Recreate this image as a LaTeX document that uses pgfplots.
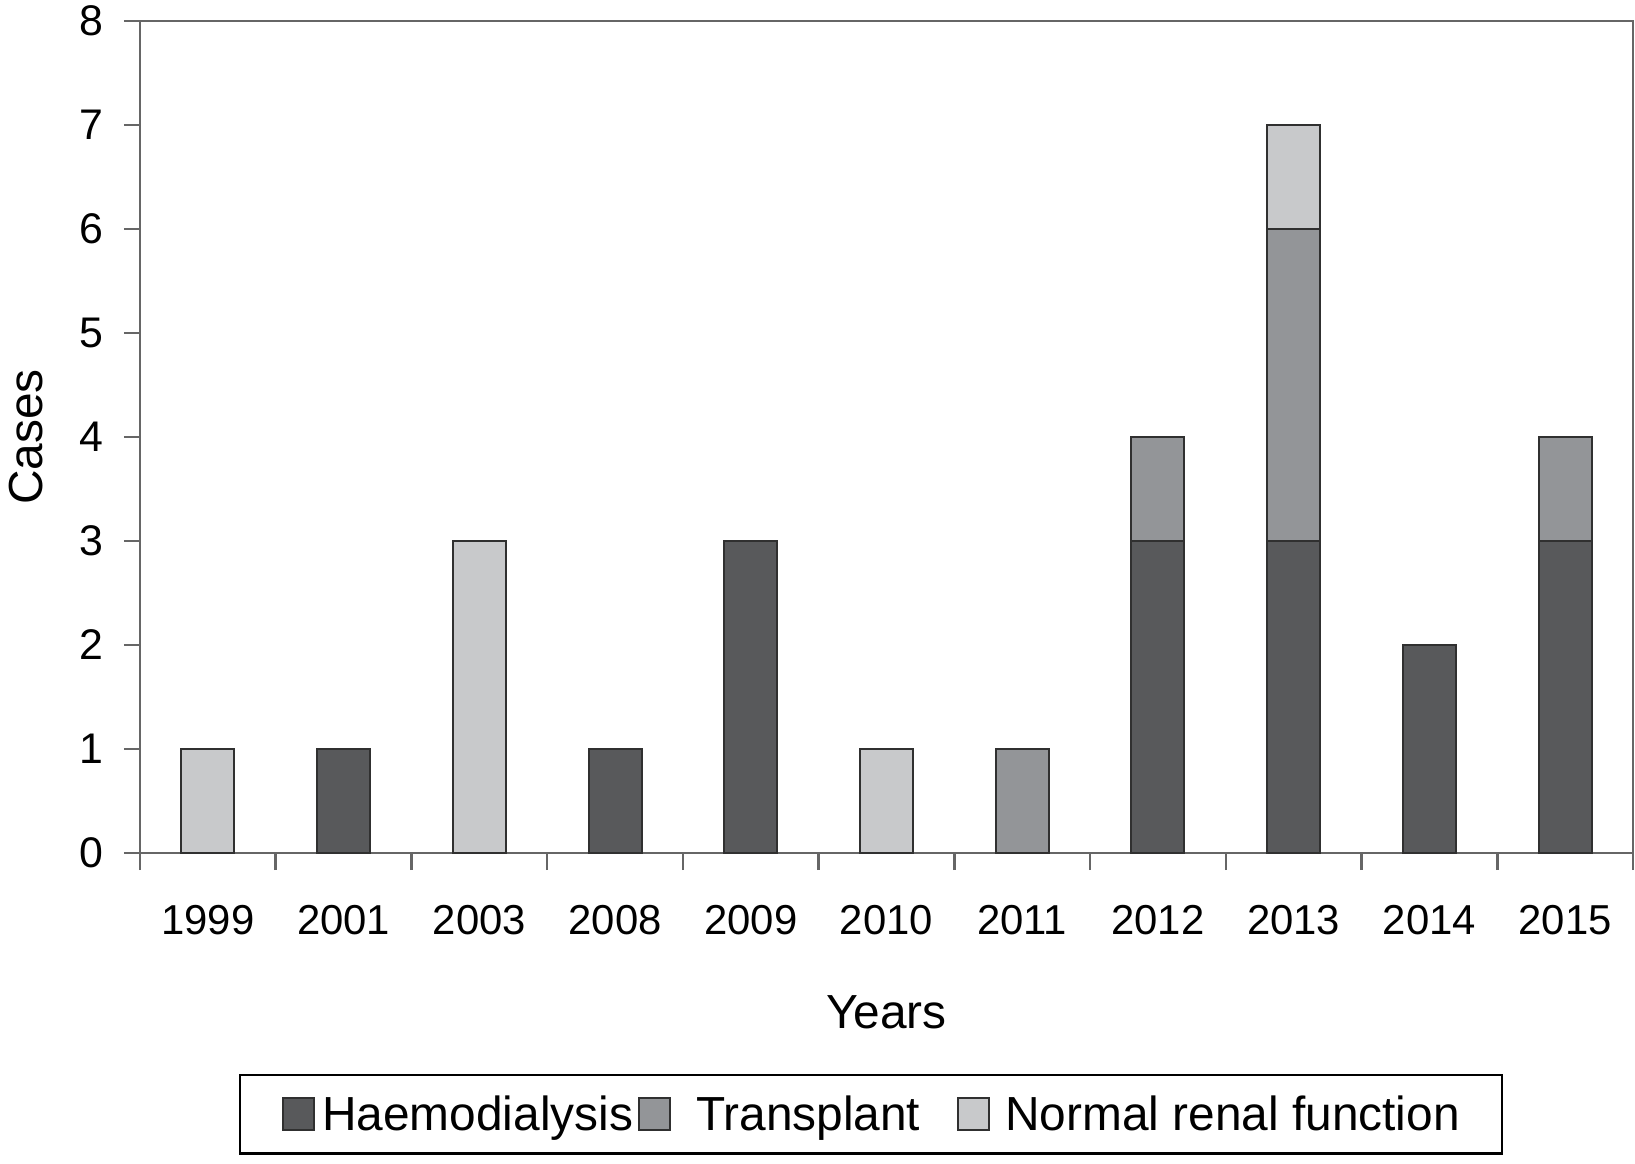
\documentclass[border=0pt]{standalone}
\usepackage{pgfplots}
\pgfplotsset{compat=1.18}
\usepackage{fontspec}
\setmainfont{Liberation Sans}
\definecolor{hd}{HTML}{58595B}
\definecolor{tp}{HTML}{939598}
\definecolor{nr}{HTML}{C8C9CB}
\definecolor{ax}{HTML}{666666}
\definecolor{edge}{HTML}{303030}
\begin{document}
\begin{tikzpicture}
\path[use as bounding box] (-140bp,-311bp) rectangle (1495bp,853bp);
\begin{axis}[
  at={(0,0)}, anchor=south west,
  scale only axis, width=1493bp, height=832bp,
  ybar stacked, bar width=53bp,
  xmin=-0.5, xmax=10.5, ymin=0, ymax=8,
  xtick={0,...,10},
  xticklabels={1999,2001,2003,2008,2009,2010,2011,2012,2013,2014,2015},
  minor xtick={-0.5,0.5,...,10.5},
  ytick={0,...,8},
  tick align=outside,
  xtick pos=left, ytick pos=left,
  major tick length=16bp, minor tick length=17bp,
  every major x tick/.append style={draw=none},
  every minor x tick/.append style={draw=ax, line width=2.5bp},
  every major y tick/.append style={draw=ax, line width=2.5bp},
  axis line style={draw=ax, line width=2.5bp},
  /pgf/number format/assume math mode=true,
  yticklabel style={font=\fontsize{43}{50}\selectfont, inner sep=0pt, anchor=east, xshift=-20bp},
  xticklabel style={font=\fontsize{42}{50}\selectfont, inner sep=0pt, anchor=north, yshift=-36bp},
  ylabel={Cases}, xlabel={Years},
  ylabel style={font=\fontsize{48}{56}\selectfont, at={(axis description cs:-0.0764,0.5)}, anchor=center, inner sep=0pt},
  xlabel style={font=\fontsize{48}{56}\selectfont, at={(axis description cs:0.5,-0.1911)}, anchor=center, inner sep=0pt},
  legend image code/.code={\draw[#1, draw=edge, line width=2bp] (0bp,-16bp) rectangle (31bp,16bp);},
  legend columns=3,
  legend style={at={(axis description cs:0.4896,-0.2656)}, anchor=north, draw=black, line width=2.5bp,
    inner xsep=42bp, inner ysep=21bp, font=\fontsize{48}{56}\selectfont,
    /tikz/every odd column/.append style={column sep=7bp},
    /tikz/every even column/.append style={column sep=5bp},
    /tikz/row 1 column 4/.append style={column sep=37bp},
    nodes={inner sep=0pt}},
]
\addplot[fill=hd, draw=edge, line width=2bp] coordinates {(0,0) (1,1) (2,0) (3,1) (4,3) (5,0) (6,0) (7,3) (8,3) (9,2) (10,3)};
\addplot[fill=tp, draw=edge, line width=2bp] coordinates {(0,0) (1,0) (2,0) (3,0) (4,0) (5,0) (6,1) (7,1) (8,3) (9,0) (10,1)};
\addplot[fill=nr, draw=edge, line width=2bp] coordinates {(0,1) (1,0) (2,3) (3,0) (4,0) (5,1) (6,0) (7,0) (8,1) (9,0) (10,0)};
\legend{Haemodialysis,{\hspace{18bp}Transplant},{\hspace{8bp}Normal renal function}}
\end{axis}
\end{tikzpicture}
\end{document}
